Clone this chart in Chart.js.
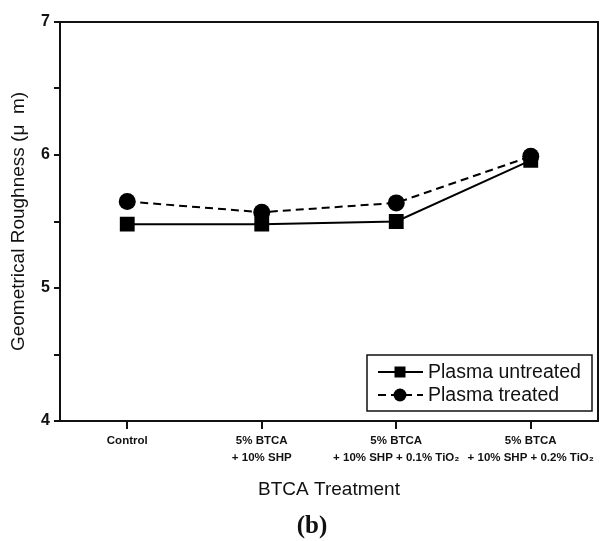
<!DOCTYPE html>
<html>
<head>
<meta charset="utf-8">
<script src="https://cdn.jsdelivr.net/npm/chart.js@4"></script>
<style>
html,body{margin:0;padding:0;background:#fff;}
#wrap{width:616px;height:541px;position:relative;}
</style>
</head>
<body>
<div id="wrap"><canvas id="c" width="616" height="541"></canvas></div>
<script>
const categories = [
  ["Control"],
  ["5% BTCA", "+ 10% SHP"],
  ["5% BTCA", "+ 10% SHP + 0.1% TiO\u2082"],
  ["5% BTCA", "+ 10% SHP + 0.2% TiO\u2082"]
];
const untreated = [5.48, 5.48, 5.50, 5.96];
const treated = [5.65, 5.57, 5.64, 5.99];
const seriesNames = ["Plasma untreated", "Plasma treated"];
const yMin = 4, yMax = 7;

const framePlugin = {
  id: 'frame',
  afterDraw(chart) {
    const {ctx, chartArea: a} = chart;
    ctx.save();
    ctx.strokeStyle = '#111';
    ctx.lineWidth = 2;
    ctx.strokeRect(a.left, a.top, a.right - a.left, a.bottom - a.top);
    // legend
    const bx = a.right - 231, by = a.bottom - 66, bw = 225, bh = 56;
    ctx.lineWidth = 1.5;
    ctx.fillStyle = '#fff';
    ctx.fillRect(bx, by, bw, bh);
    ctx.strokeRect(bx, by, bw, bh);
    chart.data.datasets.forEach((ds, i) => {
      const cy = by + 17 + i * 23;
      ctx.strokeStyle = '#000';
      ctx.lineWidth = 2;
      ctx.setLineDash(ds.borderDash || []);
      ctx.beginPath();
      ctx.moveTo(bx + 11, cy);
      ctx.lineTo(bx + 56, cy);
      ctx.stroke();
      ctx.setLineDash([]);
      ctx.fillStyle = '#000';
      if (ds.pointStyle === 'rect') {
        ctx.fillRect(bx + 33 - 5.5, cy - 5.5, 11, 11);
      } else {
        ctx.beginPath();
        ctx.arc(bx + 33, cy, 6.5, 0, Math.PI * 2);
        ctx.fill();
      }
      ctx.font = '19.5px "Liberation Sans", Arial, sans-serif';
      ctx.textBaseline = 'middle';
      ctx.textAlign = 'left';
      ctx.fillStyle = '#111';
      ctx.fillText(ds.label, bx + 61, cy + 1);
    });
    // panel label
    ctx.font = 'bold 25px "Liberation Serif", "Times New Roman", serif';
    ctx.textAlign = 'center';
    ctx.textBaseline = 'middle';
    ctx.fillStyle = '#111';
    ctx.fillText('(b)', 312, 527);
    ctx.restore();
  }
};

new Chart(document.getElementById('c'), {
  type: 'line',
  data: {
    labels: categories,
    datasets: [
      {
        label: seriesNames[0],
        data: untreated,
        borderColor: '#000',
        backgroundColor: '#000',
        borderWidth: 2,
        pointStyle: 'rect',
        pointRadius: 10.5,
        pointBorderWidth: 0,
        tension: 0
      },
      {
        label: seriesNames[1],
        data: treated,
        borderColor: '#000',
        backgroundColor: '#000',
        borderWidth: 2,
        borderDash: [8, 5],
        pointStyle: 'circle',
        pointRadius: 8.5,
        pointBorderWidth: 0,
        tension: 0
      }
    ]
  },
  options: {
    responsive: false,
    animation: false,
    layout: { padding: { left: 0, right: 18, top: 22, bottom: 40 } },
    plugins: { legend: { display: false }, tooltip: { enabled: false } },
    scales: {
      x: {
        type: 'category',
        offset: true,
        afterFit(s) { s.height = 80; },
        grid: { display: true, drawOnChartArea: false, drawTicks: true, tickLength: 8, color: '#111', lineWidth: 2, offset: false },
        border: { display: true, color: '#111', width: 2 },
        ticks: {
          color: '#111',
          padding: 3,
          maxRotation: 0,
          autoSkip: false,
          font: { family: '"Liberation Sans", Arial, sans-serif', size: 11.5, weight: 'bold', lineHeight: 1.5 }
        },
        title: {
          display: true,
          text: 'BTCA Treatment',
          color: '#111',
          padding: { top: 4, bottom: 0 },
          font: { family: '"Liberation Sans", Arial, sans-serif', size: 19, lineHeight: 1.2 }
        }
      },
      y: {
        min: yMin,
        max: yMax,
        afterFit(s) { s.width = 60; },
        grid: { display: true, drawOnChartArea: false, drawTicks: true, tickLength: 6, color: '#111', lineWidth: 2 },
        border: { display: true, color: '#111', width: 2 },
        ticks: {
          stepSize: 0.5,
          color: '#111',
          padding: 4,
          callback: v => (Number.isInteger(v) ? String(v) : ''),
          font: { family: '"Liberation Sans", Arial, sans-serif', size: 16, weight: 'bold' }
        },
        title: {
          display: true,
          text: 'Geometrical Roughness (\u03bc  m)',
          color: '#111',
          padding: { top: 7, bottom: 0 },
          font: { family: '"Liberation Sans", Arial, sans-serif', size: 19, lineHeight: 1.2 }
        }
      }
    }
  },
  plugins: [framePlugin]
});
</script>
</body>
</html>
